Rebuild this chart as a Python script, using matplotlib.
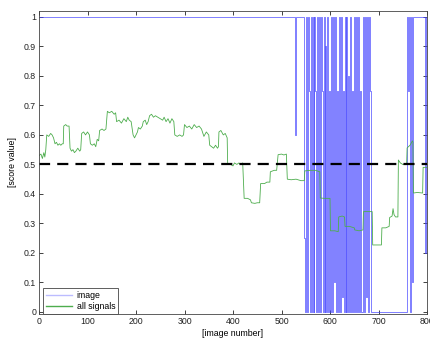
import matplotlib
matplotlib.use("Agg")
import matplotlib.pyplot as plt

plt.rcParams['font.family'] = ['Liberation Sans', 'DejaVu Sans']

# "image" score: breakpoints (image number, value), held until next breakpoint
image_x = [0, 527, 529, 547, 548, 550, 553, 555, 557, 559, 561, 563, 565, 566, 568, 570,
           572, 574, 576, 578, 580, 581, 583, 585, 587, 589, 590, 592, 594, 596, 598, 600,
           602, 604, 606, 608, 610, 612, 614, 616, 618, 620, 622, 624, 626, 628, 630, 632,
           634, 636, 638, 640, 642, 644, 646, 648, 650, 652, 654, 656, 658, 660, 662, 664,
           668, 670, 672, 674, 676, 678, 680, 682, 684, 759, 761, 762, 764, 766, 770, 772,
           795, 797, 800]
image_y = [1, 0.6, 1, 0.25, 0, 1, 0, 1, 0.75, 0, 1, 0, 1, 0, 1, 0.75,
           0, 1, 0, 1, 0, 1, 0.75, 0, 1, 0, 0.9, 0, 1, 0, 0.75, 0,
           1, 0, 1, 0.1, 1, 0, 0.75, 0, 1, 0, 1, 0.05, 0.75, 0, 1, 0,
           1, 0, 0.8, 0, 1, 0, 0.75, 0, 1, 0, 1, 0, 1, 0, 0.75, 0,
           1, 0, 1, 0.05, 1, 0, 1, 0.75, 0, 1, 0.75, 1, 0, 1, 0.1, 1,
           0.2, 1, 1]

# "all signals" score: (image number, value)
signals_x = [0, 4, 7, 10, 12, 14, 16, 20, 24, 27, 30, 33, 36, 39, 42, 45, 48, 50, 51, 55,
             58, 62, 64, 67, 70, 73, 76, 80, 84, 86, 88, 92, 96, 100, 104, 106, 110, 114,
             117, 120, 123, 125, 130, 134, 138, 141, 145, 150, 155, 158, 160, 165, 170, 175,
             180, 183, 186, 190, 194, 197, 200, 203, 205, 209, 213, 215, 219, 222, 225, 228,
             232, 236, 240, 245, 250, 255, 258, 262, 266, 270, 274, 278, 280, 285, 290, 295,
             298, 300, 305, 310, 315, 320, 325, 330, 335, 337, 340, 345, 350, 352, 356, 360,
             364, 368, 370, 371, 375, 380, 384, 388, 389, 395, 400, 403, 408, 412, 416, 420,
             423, 430, 436, 438, 445, 450, 455, 457, 465, 470, 476, 477, 485, 490, 493, 500,
             505, 510, 512, 520, 530, 540, 547, 548, 560, 570, 579, 580, 590, 600, 601, 610,
             617, 618, 625, 630, 631, 640, 650, 651, 660, 668, 669, 680, 687, 688, 700, 706,
             707, 715, 722, 723, 728, 730, 732, 735, 740, 741, 745, 750, 758, 759, 765, 770,
             771, 772, 780, 791, 792, 800]
signals_y = [0.53, 0.535, 0.52, 0.54, 0.525, 0.55, 0.60, 0.595, 0.605, 0.60, 0.59, 0.57,
             0.575, 0.565, 0.57, 0.565, 0.57, 0.57, 0.63, 0.635, 0.63, 0.63, 0.555, 0.545,
             0.55, 0.54, 0.545, 0.555, 0.545, 0.55, 0.605, 0.61, 0.60, 0.61, 0.60, 0.57,
             0.565, 0.57, 0.56, 0.585, 0.58, 0.615, 0.62, 0.615, 0.62, 0.68, 0.675, 0.68,
             0.67, 0.675, 0.645, 0.65, 0.64, 0.655, 0.645, 0.66, 0.65, 0.645, 0.60, 0.59,
             0.60, 0.61, 0.625, 0.62, 0.63, 0.645, 0.65, 0.635, 0.645, 0.665, 0.67, 0.66,
             0.665, 0.66, 0.655, 0.65, 0.66, 0.645, 0.655, 0.64, 0.655, 0.645, 0.60, 0.595,
             0.60, 0.595, 0.60, 0.635, 0.625, 0.63, 0.62, 0.635, 0.625, 0.63, 0.62, 0.61,
             0.595, 0.61, 0.60, 0.565, 0.56, 0.555, 0.565, 0.555, 0.56, 0.61, 0.615, 0.60,
             0.605, 0.59, 0.50, 0.50, 0.495, 0.505, 0.50, 0.505, 0.50, 0.505, 0.385, 0.385,
             0.38, 0.37, 0.368, 0.37, 0.37, 0.435, 0.435, 0.44, 0.44, 0.475, 0.48, 0.48,
             0.533, 0.535, 0.532, 0.535, 0.45, 0.448, 0.45, 0.445, 0.445, 0.478, 0.48, 0.48,
             0.475, 0.386, 0.385, 0.385, 0.275, 0.275, 0.272, 0.322, 0.325, 0.322, 0.29,
             0.29, 0.285, 0.278, 0.275, 0.278, 0.34, 0.34, 0.34, 0.227, 0.227, 0.227, 0.285,
             0.285, 0.29, 0.32, 0.325, 0.35, 0.33, 0.322, 0.322, 0.515, 0.505, 0.50, 0.50,
             0.556, 0.565, 0.58, 0.575, 0.403, 0.405, 0.403, 0.49, 0.49]

threshold = 0.5
x_ticks = [0, 100, 200, 300, 400, 500, 600, 700, 800]
y_ticks = [0, 0.1, 0.2, 0.3, 0.4, 0.5, 0.6, 0.7, 0.8, 0.9, 1]
y_tick_labels = ['0', '0.1', '0.2', '0.3', '0.4', '0.5', '0.6', '0.7', '0.8', '0.9', '1']

fig = plt.figure(figsize=(4.3, 3.4), dpi=100)
ax = fig.add_axes([39/430, 1 - 314/340, 388/430, 303/340])

ax.plot(image_x, image_y, drawstyle='steps-post', color=(0.25, 0.25, 1.0), lw=0.55,
        alpha=0.85, label='image')
ax.plot(signals_x, signals_y, color=(0.3, 0.68, 0.3), lw=0.6, label='all signals')
ax.axhline(threshold, color='black', lw=1.6, dashes=(5, 3.2))

ax.set_xlim(0, 800)
ax.set_ylim(-0.007, 1.02)
ax.set_xticks(x_ticks)
ax.set_yticks(y_ticks)
ax.set_yticklabels(y_tick_labels)
ax.tick_params(direction='in', length=3, width=0.6, labelsize=6.3, top=True, right=True,
               pad=2, colors='#222222')
for s in ax.spines.values():
    s.set_linewidth(0.6)
    s.set_color('#444444')

ax.set_xlabel('[image number]', fontsize=6.3, labelpad=2)
ax.set_ylabel('[score value]', fontsize=6.3, labelpad=5)

leg = ax.legend(loc='lower left', bbox_to_anchor=(0.01, 0.0), borderaxespad=0,
                fontsize=6.3, fancybox=False, framealpha=1, edgecolor='#444444',
                handlelength=3.0, handletextpad=0.5, borderpad=0.35, labelspacing=0.2)
leg.get_frame().set_linewidth(0.6)
for line in leg.get_lines():
    line.set_linewidth(1.0)
leg.get_lines()[0].set_alpha(0.35)

fig.savefig('out.png', dpi=100)
